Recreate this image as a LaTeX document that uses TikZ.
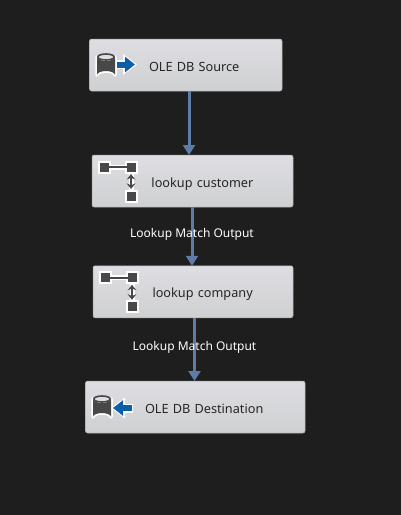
\documentclass[tikz,border=0pt]{standalone}
\usepackage{fontspec}
\setmainfont{Noto Sans}
\usetikzlibrary{arrows.meta}
\definecolor{canvas}{HTML}{1E1E1E}
\definecolor{flowblue}{HTML}{5D7DA8}
\definecolor{iconblue}{HTML}{0B5EA8}
\definecolor{icondark}{HTML}{484848}
\definecolor{boxtop}{HTML}{DEDEE2}
\definecolor{boxbottom}{HTML}{CFD0D2}
\tikzset{
	taskbox/.style={rectangle,draw=black!35,line width=0.5pt,rounded corners=2pt,top color=boxtop,bottom color=boxbottom,
		minimum height=52pt,inner xsep=0pt,outer sep=0pt,align=left,font=\fontsize{12.7}{14}\selectfont,text=black!85,
		text height=15pt,text depth=3pt,execute at begin node=\hspace*{59.5pt}},
	flowline/.style={draw=flowblue,line width=3pt,-{Triangle[length=10pt,width=12pt]}},
	flowlabel/.style={text=white,font=\fontsize{12}{14}\selectfont,inner sep=0pt},
	halo/.style={draw=white,line width=3.5pt,line join=round},
	dbcyl/.pic={
		\draw[halo,fill=white] (7.5,18) -- (7.5,36) arc[start angle=180,end angle=360,x radius=9,y radius=4] -- (25.5,18) arc[start angle=0,end angle=180,x radius=9,y radius=4] -- cycle;
		\fill[icondark] (7.5,18) -- (7.5,36) arc[start angle=180,end angle=360,x radius=9,y radius=4] -- (25.5,18) arc[start angle=0,end angle=180,x radius=9,y radius=4] -- cycle;
		\draw[icondark,fill=boxtop,line width=1.6pt] (16.5,18) ellipse[x radius=8.2,y radius=3];
	},
	lookicon/.pic={
		\draw[halo,line width=5pt] (12,12) -- (39,12) -- (39,41);
		\foreach \px/\py in {12/12,39/12,39/41}{
			\fill[white] (\px-6.5,\py-6.5) rectangle (\px+6.5,\py+6.5);
			\fill[icondark] (\px-4.5,\py-4.5) rectangle (\px+4.5,\py+4.5);
		}
		\draw[icondark,line width=1.8pt] (12,12) -- (39,12);
		\draw[icondark,line width=1.8pt,{Stealth[length=5.5pt,width=8.5pt]}-{Stealth[length=5.5pt,width=8.5pt]}] (39,19) -- (39,34);
	},
}
\begin{document}
\begin{tikzpicture}[x=1pt,y=-1pt]
	\useasboundingbox[fill=canvas] (0,0) rectangle (401,515);
	% Place nodes
	\node [taskbox,text width=192.5pt] (source) at (185.75,65) {OLE DB Source};
	\node [taskbox,text width=201pt] (customer) at (192.5,181) {lookup customer};
	\node [taskbox,text width=200pt] (company) at (193,291.75) {lookup company};
	\node [taskbox,text width=219.5pt] (dest) at (195.25,407) {OLE DB Destination};

	% Icons
	\pic at (source.north west) {dbcyl};
	\draw[white,line width=9pt,-{Triangle[length=14pt,width=20pt]}] (117,64.5) -- (137,64.5);
	\draw[iconblue,line width=6pt,-{Triangle[length=10pt,width=15pt]}] (116.5,64.5) -- (135,64.5);
	\pic at (customer.north west) {lookicon};
	\pic at (company.north west) {lookicon};
	\pic at (dest.north west) {dbcyl};
	\draw[white,line width=9pt,-{Triangle[length=14pt,width=20pt]}] (133,408) -- (111,408);
	\draw[iconblue,line width=6pt,-{Triangle[length=10pt,width=15pt]}] (132,408) -- (113,408);

	% Connectors
	\draw[flowline] ([xshift=3.25pt]source.south) -- ([xshift=-3.5pt]customer.north);
	\draw[flowline] ([xshift=-0.5pt]customer.south) -- ([xshift=-1pt]company.north) node[flowlabel,pos=0.46] (match1) {Lookup Match Output};
	\draw[flowline] ([xshift=1.5pt]company.south) -- ([xshift=-0.75pt]dest.north) node[flowlabel,pos=0.47] (match2) {Lookup Match Output};
\end{tikzpicture}
\end{document}
